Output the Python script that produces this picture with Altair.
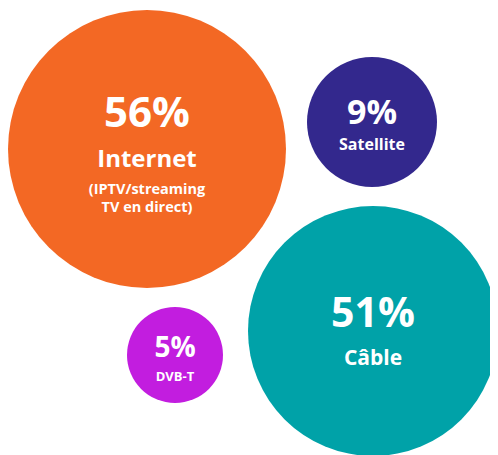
import altair as alt
import pandas as pd

# --- data ---
categories = ["Internet", "Satellite", "Câble", "DVB-T"]
shares = [56, 9, 51, 5]
pct_labels = ["56%", "9%", "51%", "5%"]
notes = [["(IPTV/streaming", "TV en direct)"], [], [], []]
colors = ["#F36824", "#33288D", "#00A2A8", "#C21DDF"]

# --- layout (bubble centres, in page pixels) ---
cx = [147, 372, 373, 175]
cy = [149, 122, 331, 355]

bubbles = pd.DataFrame({"cat": categories, "share": shares, "cx": cx, "cy": cy})

# text layout: baseline offsets from centre and font sizes
pct_dy = [-22, 2, -4, 2]
pct_fs = [42, 34, 41, 28]
name_dy = [18, 28, 34, 26]
name_fs = [24, 16, 21, 13]
note_dy0 = 45
note_step = 18
note_fs = 14.5

rows = []
for i, c in enumerate(categories):
    rows.append({"t": pct_labels[i], "x": cx[i], "y": cy[i] + pct_dy[i], "fs": pct_fs[i]})
    rows.append({"t": c, "x": cx[i], "y": cy[i] + name_dy[i], "fs": name_fs[i]})
    for j, n in enumerate(notes[i]):
        rows.append({"t": n, "x": cx[i], "y": cy[i] + note_dy0 + j * note_step, "fs": note_fs})
labels = pd.DataFrame(rows)

W, H = 482, 447
xs = alt.Scale(domain=[8, 8 + W])
ys = alt.Scale(domain=[8, 8 + H], reverse=True)

circles = alt.Chart(bubbles).mark_circle(opacity=1, strokeWidth=0).encode(
    x=alt.X("cx:Q", scale=xs, axis=None),
    y=alt.Y("cy:Q", scale=ys, axis=None),
    size=alt.Size("share:Q", legend=None,
                  scale=alt.Scale(domain=[5, 9, 51, 56], range=[9216, 16900, 62500, 77284])),
    color=alt.Color("cat:N", legend=None,
                    scale=alt.Scale(domain=categories, range=colors)),
)

texts = alt.Chart(labels).mark_text(
    color="white", font="Open Sans", fontWeight="bold", baseline="alphabetic", align="center"
).encode(
    x=alt.X("x:Q", scale=xs, axis=None),
    y=alt.Y("y:Q", scale=ys, axis=None),
    text="t:N",
    size=alt.Size("fs:Q", scale=None, legend=None),
)

chart = (circles + texts).properties(
    width=W, height=H, autosize=alt.AutoSizeParams(type="none"), padding=0
).configure_view(stroke=None)

chart.save("out.html", embed_options={"renderer": "svg", "actions": False})
